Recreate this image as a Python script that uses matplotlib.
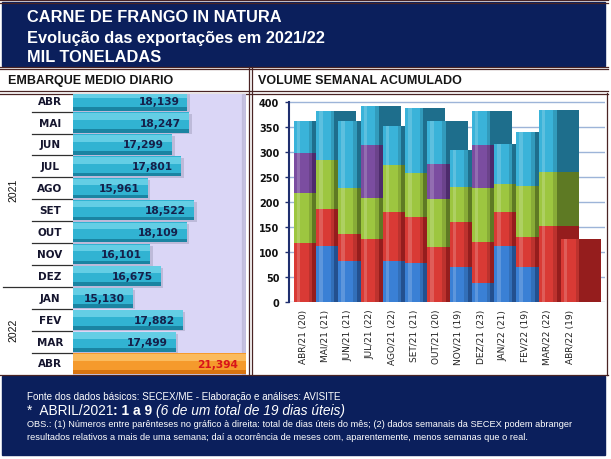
import matplotlib
matplotlib.use("Agg")
import matplotlib.pyplot as plt
from matplotlib.patches import Rectangle

# ---- data ----
left_months = ['ABR', 'MAI', 'JUN', 'JUL', 'AGO', 'SET', 'OUT',
               'NOV', 'DEZ', 'JAN', 'FEV', 'MAR', 'ABR']
daily_avg = [18139, 18247, 17299, 17801, 15961, 18522, 18109,
             16101, 16675, 15130, 17882, 17499, 21394]

week_labels = ['ABR/21 (20)', 'MAI/21 (21)', 'JUN/21 (21)', 'JUL/21 (22)',
               'AGO/21 (22)', 'SET/21 (21)', 'OUT/21 (20)', 'NOV/21 (19)',
               'DEZ/21 (23)', 'JAN/22 (21)', 'FEV/22 (19)', 'MAR/22 (22)',
               'ABR/22 (19)']
wk_blue = [0, 112, 81, 0, 81, 77, 0, 70, 37, 112, 70, 0, 0]
wk_red = [117, 73, 54, 125, 99, 93, 109, 90, 82, 68, 60, 152, 125]
wk_green = [100, 98, 92, 82, 93, 87, 96, 70, 108, 55, 102, 107, 0]
wk_purple = [80, 0, 0, 106, 0, 0, 70, 0, 87, 0, 0, 0, 0]
wk_cyan = [65, 99, 135, 78, 78, 130, 86, 74, 67, 80, 107, 124, 0]

W, H = 611, 460
NAVY = '#0b1f5c'
MAROON = '#4a2424'
INK = '#16204a'


def rect(x0, y0, x1, y1):
    # pixel box (origin top-left) -> figure fraction
    return [x0 / W, 1 - y1 / H, (x1 - x0) / W, (y1 - y0) / H]


fig = plt.figure(figsize=(W / 100, H / 100), dpi=100)
fig.patch.set_facecolor('white')

# full-figure canvas in pixel coordinates for boxes and texts
cv = fig.add_axes([0, 0, 1, 1], zorder=0)
cv.set_xlim(0, W)
cv.set_ylim(H, 0)
cv.set_axis_off()

# header
cv.add_patch(Rectangle((2, 3), 603, 64, color=NAVY))
for yy in (1, 3.5, 67.5, 70, 92, 94.5):
    cv.plot([0, 608], [yy, yy], color=MAROON, lw=0.9)
cv.plot([249, 249], [68, 376], color=MAROON, lw=0.9)
cv.plot([251.5, 251.5], [68, 376], color=MAROON, lw=0.9)
cv.plot([607, 607], [94, 376], color=MAROON, lw=0.9)

title_kw = dict(color='white', fontsize=11.8, fontweight='bold',
                family='Liberation Sans', va='center', ha='left')
cv.text(27, 17, 'CARNE DE FRANGO IN NATURA', **title_kw)
cv.text(27, 38, 'Evolução das exportações em 2021/22', **title_kw)
cv.text(27, 57, 'MIL TONELADAS', **title_kw)

sec_kw = dict(color='#151515', fontsize=9, fontweight='bold',
              family='Liberation Sans', va='center', ha='left')
cv.text(8, 81, 'EMBARQUE MEDIO DIARIO', **sec_kw)
cv.text(258, 81, 'VOLUME SEMANAL ACUMULADO', **sec_kw)

# footer
cv.add_patch(Rectangle((2, 377), 603, 79, color=NAVY))
cv.plot([0, 608], [376, 376], color=MAROON, lw=0.9)

fkw = dict(color='white', family='Liberation Sans', va='center', ha='left')
cv.text(27, 397, 'Fonte dos dados básicos: SECEX/ME - Elaboração e análises: AVISITE',
        fontsize=7.1, **fkw)

renderer = fig.canvas.get_renderer()
x = 27
for txt, extra in [('*  ABRIL/2021', {}),
                   (': 1 a 9 ', {'fontweight': 'bold'}),
                   ('(6 de um total de 19 dias úteis)', {'style': 'italic'})]:
    t = cv.text(x, 411, txt, fontsize=9.9, **fkw, **extra)
    x += t.get_window_extent(renderer).width

cv.text(27, 425, 'OBS.: (1) Números entre parênteses no gráfico à direita: total de dias úteis do mês; '
        '(2) dados semanais da SECEX podem abranger', fontsize=6.65, **fkw)
cv.text(27, 438, 'resultados relativos a mais de uma semana; daí a ocorrência de meses com, '
        'aparentemente, menos semanas que o real.', fontsize=6.65, **fkw)

# ---- left panel: daily average shipments ----
row_h = 21.9
top_px, bot_px = 95, 375.5
ax1 = fig.add_axes(rect(73, top_px, 246, bot_px), zorder=1)
ax1.set_facecolor('#dad6f6')
ax1.set_xlim(11850, 21370)
ax1.set_ylim(12.5, -0.5 + (top_px - 90.7) / row_h)

pos = list(range(len(daily_avg)))
for k, v in zip(pos, daily_avg):
    last = k == len(daily_avg) - 1
    base, light, dark = ('#f59a2c', '#fcc46a', '#d87410') if last else \
                        ('#31b3d2', '#72d5ea', '#1a84a2')
    ax1.barh(k + 0.08, v + 150, height=0.9, color='#7c7c96', alpha=0.3, zorder=1)
    ax1.barh(k, v, height=0.92, color=base, zorder=2)
    ax1.barh(k - 0.28, v, height=0.3, color=light, alpha=0.8, zorder=3)
    ax1.barh(k + 0.38, v, height=0.16, color=dark, zorder=3)
    ax1.annotate(f'{v:,}', (v, k), xytext=(-8, 0), textcoords='offset pixels',
                 ha='right', va='center', fontsize=7.7, fontweight='bold',
                 color='#d8141a' if last else INK, zorder=4)
ax1.axvspan(21150, 21370, color='#a8a4c4', alpha=0.4, zorder=0.5)
ax1.set_xticks([])
ax1.set_yticks([])
for s in ax1.spines.values():
    s.set_visible(False)

# month labels and separators in canvas pixel coordinates
for k, m in enumerate(left_months):
    yc = 90.7 + row_h * (k + 0.5)
    cv.text(50, yc, m, fontsize=7.5, fontweight='bold', color='#15152e',
            ha='center', va='center')
    if 0 < k:
        xs = 3 if k == 9 else 32
        cv.plot([xs, 73], [yc - row_h / 2, yc - row_h / 2], color='#303030', lw=0.9)
cv.text(13, 190, '2021', rotation=90, fontsize=7.5, family='Liberation Sans',
        ha='center', va='center', color='#111')
cv.text(13, 330, '2022', rotation=90, fontsize=7.5, family='Liberation Sans',
        ha='center', va='center', color='#111')

# ---- right panel: weekly cumulative volume ----
ax2 = fig.add_axes(rect(289, 95, 605, 302.7), zorder=1)
ax2.set_facecolor('none')
ax2.set_ylim(0, 415)
ax2.set_xlim(-0.63, 13.57)

series = [(wk_blue, '#3a80d5', '#23508f'),
          (wk_red, '#d93a35', '#951d1d'),
          (wk_green, '#9dc640', '#5e7a24'),
          (wk_purple, '#7b4da0', '#4d2b6c'),
          (wk_cyan, '#3ab3d9', '#1e6e8c')]

fw = 0.82
for i in range(len(week_labels)):
    z = 2 + 4 * i
    bottom = 0
    total = sum(s[0][i] for s in series)
    for vals, front, side in series:
        h = vals[i]
        if h == 0:
            continue
        ax2.bar(i + fw / 2 + 0.495, h, width=0.99, bottom=bottom, color=side, zorder=z)
        ax2.bar(i, h, width=fw, bottom=bottom, color=front, zorder=z + 1)
        bottom += h
    # cylinder-like shading on the front face
    ax2.bar(i - 0.2, total, width=0.16, color='white', alpha=0.18, zorder=z + 2)
    ax2.bar(i + 0.33, total, width=0.16, color='black', alpha=0.13, zorder=z + 2)

ax2.set_yticks(range(0, 401, 50))
ax2.yaxis.grid(True, color='#9db4d8', lw=1)
ax2.set_axisbelow(True)
ax2.set_xticks(range(len(week_labels)))
ax2.set_xticklabels(week_labels, rotation=90, fontsize=6.5, color='#222')
ax2.tick_params(axis='x', length=0, pad=5)
ax2.tick_params(axis='y', length=3, width=1, color='#1f2f6f', pad=4,
                labelsize=7, labelcolor='#111')
for lb in ax2.get_yticklabels():
    lb.set_fontweight('bold')
for s in ('top', 'right', 'bottom'):
    ax2.spines[s].set_visible(False)
ax2.spines['left'].set_bounds(0, 400)
ax2.spines['left'].set_color('#1f2f6f')
ax2.spines['left'].set_linewidth(1.5)

fig.savefig('out.png', dpi=100)
